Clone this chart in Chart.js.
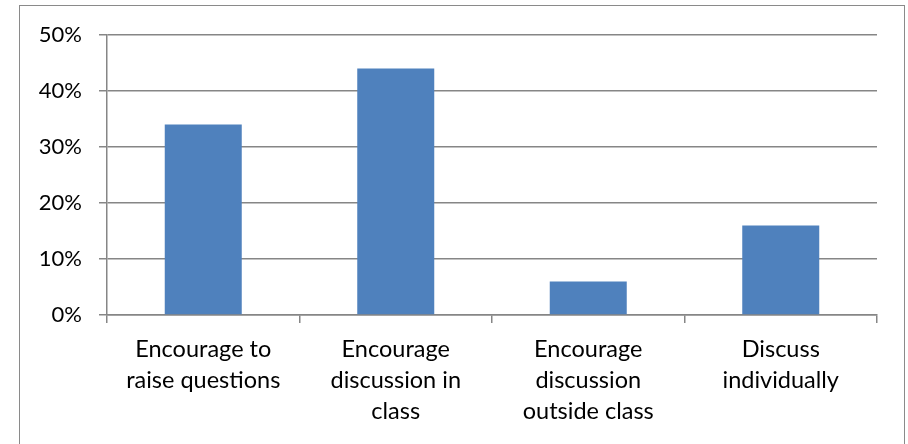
<!DOCTYPE html>
<html>
<head>
<meta charset="utf-8">
<script src="https://cdn.jsdelivr.net/npm/chart.js@4/dist/chart.umd.min.js"></script>
<style>
  html, body { margin: 0; padding: 0; background: #fff; }
  #wrap { position: relative; width: 908px; height: 444px; }
  #frame { position: absolute; left: 19px; top: 5px; width: 884px; height: 460px; border: 1.5px solid #8a8a8a; }
  canvas { position: absolute; left: 0; top: 0; }
</style>
</head>
<body>
<div id="wrap">
  <div id="frame"></div>
  <canvas id="chart" width="908" height="444"></canvas>
</div>
<script>
// categories and values
const categories = [
  ['Encourage to', 'raise questions'],
  ['Encourage', 'discussion in', 'class'],
  ['Encourage', 'discussion', 'outside class'],
  ['Discuss', 'individually']
];
const shares = [34, 44, 6, 16];
const yTicks = [0, 10, 20, 30, 40, 50];

const gridGray = '#868686';
const family = 'Lato, "Open Sans", sans-serif';

const ctx = document.getElementById('chart').getContext('2d');
new Chart(ctx, {
  type: 'bar',
  data: {
    labels: categories,
    datasets: [{
      data: shares,
      backgroundColor: '#4f81bd',
      borderWidth: 0,
      categoryPercentage: 1,
      barPercentage: 0.4
    }]
  },
  options: {
    responsive: false,
    animation: false,
    layout: { padding: { top: 35, right: 31, left: 0, bottom: 0 } },
    plugins: { legend: { display: false }, tooltip: { enabled: false } },
    scales: {
      x: {
        offset: true,
        grid: { offset: true, drawOnChartArea: false, drawTicks: true, tickLength: 8, color: gridGray, lineWidth: 1.5 },
        border: { color: gridGray, width: 1.5 },
        ticks: { color: '#000', font: { family, size: 23.5, lineHeight: 31 / 23.5 }, padding: 11, maxRotation: 0, autoSkip: false },
        afterFit: s => { s.height = 129; }
      },
      y: {
        min: 0,
        max: 50,
        afterBuildTicks: s => { s.ticks = yTicks.map(v => ({ value: v })); },
        grid: { color: gridGray, lineWidth: 1.5, tickLength: 8 },
        border: { color: gridGray, width: 1.5 },
        ticks: { color: '#000', font: { family, size: 22 }, padding: 17, callback: v => v + '%' },
        afterFit: s => { s.width = 107; }
      }
    }
  }
});
</script>
</body>
</html>
